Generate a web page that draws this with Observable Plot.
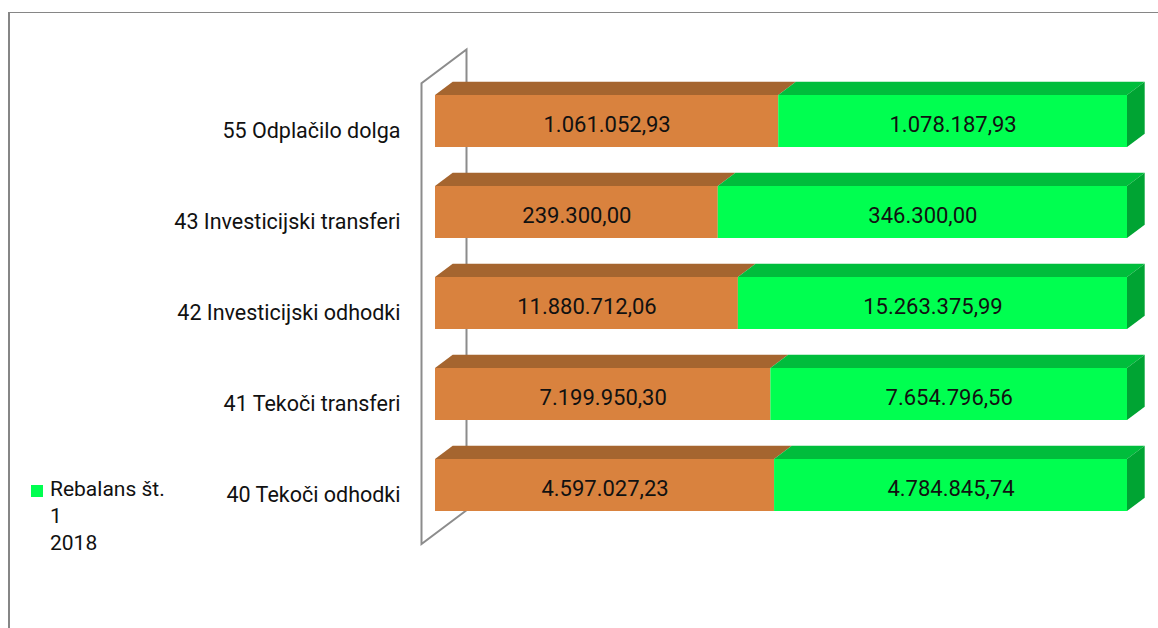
<!DOCTYPE html>
<html>
<head>
<meta charset="utf-8">
<script src="https://cdn.jsdelivr.net/npm/d3@7"></script>
<script src="https://cdn.jsdelivr.net/npm/@observablehq/plot@0.6"></script>
<style>
  html, body { margin: 0; padding: 0; background: #fff; }
  #wrap { position: relative; width: 1158px; height: 628px; overflow: hidden; font-family: Roboto, sans-serif; }
  #frame { position: absolute; left: 8px; top: 12px; width: 1200px; height: 700px; border-left: 2px solid #868686; border-top: 1.5px solid #868686; box-sizing: border-box; }
  #chart { position: absolute; left: 0; top: 0; }
  #legend { position: absolute; left: 31px; top: 476px; font-size: 21px; line-height: 27px; color: #111; }
  #legend .sw { position: absolute; left: 0; top: 9px; width: 12px; height: 12px; background: #00FF50; }
  #legend .tx { position: absolute; left: 19px; top: 0; white-space: nowrap; }
</style>
</head>
<body>
<div id="wrap">
  <div id="frame"></div>
  <div id="chart"></div>
  <div id="legend"></div>
</div>
<script>
// ---- data ----
const categories = ["55 Odplačilo dolga", "43 Investicijski transferi", "42 Investicijski odhodki", "41 Tekoči transferi", "40 Tekoči odhodki"];
const seriesNames = ["Proračun 2018", "Rebalans št. 1 2018"];
const seriesA = [1061052.93, 239300.00, 11880712.06, 7199950.30, 4597027.23];
const seriesB = [1078187.93, 346300.00, 15263375.99, 7654796.56, 4784845.74];
const legendLines = ["Rebalans št.", "1", "2018"];

// ---- styles ----
const frontColors = ["#D9823E", "#00FF50"];
const topColors = ["#A5652F", "#00BD3C"];
const sideColor = "#00A433";
const DX = 17.7, DY = 13.3;

const rows = [];
categories.forEach((c, i) => {
  rows.push({cat: c, series: seriesNames[0], value: seriesA[i]});
  rows.push({cat: c, series: seriesNames[1], value: seriesB[i]});
});

const loc = d3.formatLocale({decimal: ",", thousands: ".", grouping: [3], currency: ["", " €"]});
const fmt = loc.format(",.2f");

const svgNS = "http://www.w3.org/2000/svg";
function poly(g, pts, fill) {
  const p = document.createElementNS(svgNS, "polygon");
  p.setAttribute("points", pts.map(d => d.join(",")).join(" "));
  p.setAttribute("fill", fill);
  g.appendChild(p);
}

// wall (side panel of the 3D frame)
function wallMark(index, scales, values, dimensions) {
  const g = document.createElementNS(svgNS, "g");
  const x0 = scales.x(0);
  const top = dimensions.marginTop;
  const bottom = dimensions.height - dimensions.marginBottom;
  const fx = x0 - 13.5, bx = x0 + 31.5;
  const wdy = (bx - fx) * (DY / DX);
  const pts = [[bx, bottom - 41.5], [bx, top - 4], [fx, top - 4 + wdy], [fx, bottom - 8.5], [bx, bottom - 8.5 - wdy]];
  const pl = document.createElementNS(svgNS, "polyline");
  pl.setAttribute("points", pts.map(d => d.join(",")).join(" "));
  pl.setAttribute("fill", "none");
  pl.setAttribute("stroke", "#8C8C8C");
  pl.setAttribute("stroke-width", 2);
  g.appendChild(pl);
  return g;
}

// top and side faces of the 3D bars
function facesMark(index, scales) {
  const g = document.createElementNS(svgNS, "g");
  const bw = typeof scales.y.bandwidth === "function" ? scales.y.bandwidth() : 53;
  categories.forEach((c, i) => {
    const t = seriesA[i] + seriesB[i];
    const xa0 = scales.x(0), xa1 = scales.x(seriesA[i] / t), xb1 = scales.x(1);
    const yt = scales.y(c);
    poly(g, [[xa0, yt], [xa0 + DX, yt - DY], [xa1 + DX, yt - DY], [xa1, yt]], topColors[0]);
    poly(g, [[xa1, yt], [xa1 + DX, yt - DY], [xb1 + DX, yt - DY], [xb1, yt]], topColors[1]);
    poly(g, [[xb1, yt], [xb1 + DX, yt - DY], [xb1 + DX, yt + bw - DY], [xb1, yt + bw]], sideColor);
  });
  return g;
}

const chart = Plot.plot({
  width: 1158,
  height: 628,
  marginLeft: 435,
  marginRight: 31,
  marginTop: 53.5,
  marginBottom: 75.5,
  style: {fontFamily: "Roboto, sans-serif", background: "transparent"},
  x: {domain: [0, 1], axis: null},
  y: {domain: categories, padding: 0.424, axis: null},
  color: {domain: seriesNames, range: frontColors},
  marks: [
    wallMark,
    facesMark,
    Plot.barX(rows, Plot.stackX({x: "value", y: "cat", fill: "series", offset: "normalize", order: seriesNames})),
    Plot.text(rows, Plot.stackX({x: "value", y: "cat", z: "series", offset: "normalize", order: seriesNames,
      text: d => fmt(d.value), fontSize: 22, fill: "#111", dy: 3})),
    Plot.axisY({tickSize: 0, tickPadding: 35, dy: 10, fontSize: 21.5, color: "#111", label: null})
  ]
});
document.getElementById("chart").appendChild(chart);

const lg = document.getElementById("legend");
lg.innerHTML = `<div class="sw"></div><div class="tx">${legendLines.join("<br>")}</div>`;
</script>
</body>
</html>
